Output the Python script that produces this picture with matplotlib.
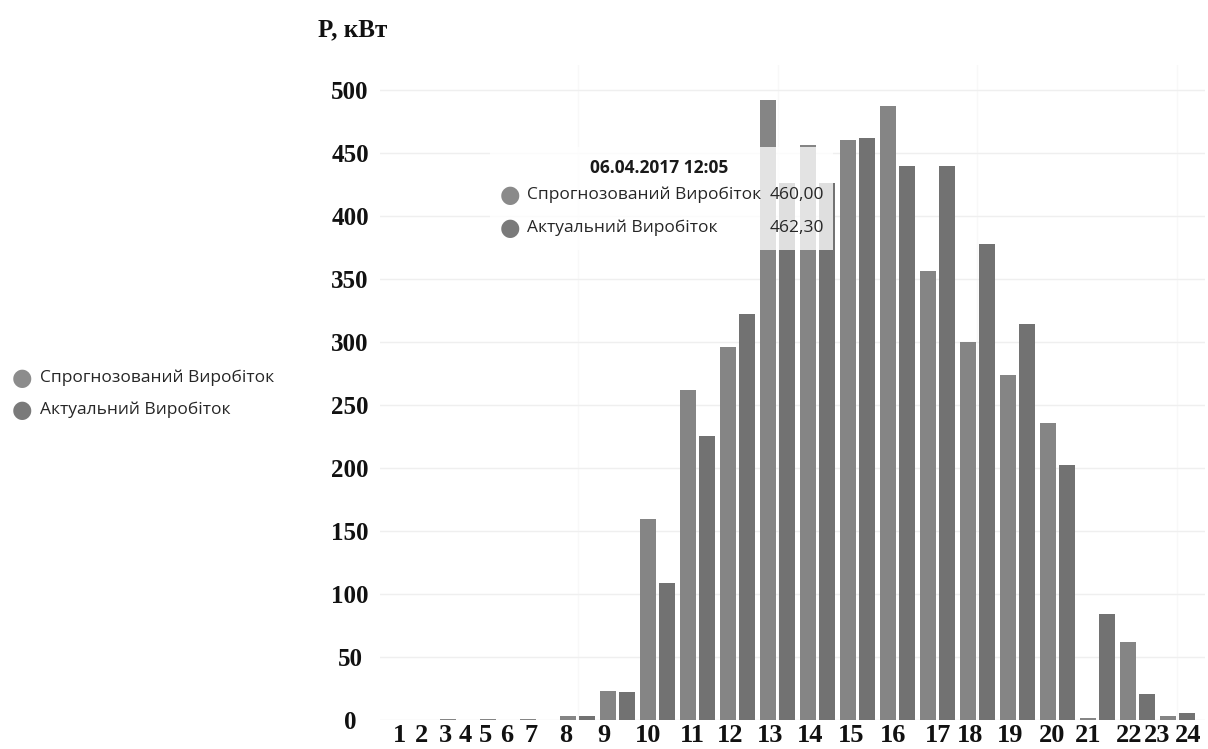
import numpy as np
import matplotlib
matplotlib.use("Agg")
import matplotlib.pyplot as plt
from matplotlib.patches import Rectangle

# one group per time slot, first bar = forecast, second = actual
forecast = [0, 1, 1, 1, 3, 23, 159.5, 262, 296, 492, 456, 460, 487, 356.5, 300, 274, 235.5, 1.5, 62, 3]
actual = [0, 0, 0, 0, 3, 22.5, 109, 225, 322, 426, 426, 462.3, 440, 440, 378, 314, 202, 84, 20.5, 5.5]
hour_labels = [str(h) for h in range(1, 25)]
hour_pos = [-0.44, 0.11, 0.69, 1.19, 1.69, 2.24, 2.84, 3.71, 4.66, 5.76, 6.86, 7.81,
            8.81, 9.81, 10.84, 11.89, 13.01, 13.81, 14.81, 15.86, 16.76, 17.79, 18.49, 19.26]
y_ticks = [0, 50, 100, 150, 200, 250, 300, 350, 400, 450, 500]
series_names = ["Спрогнозований Виробіток", "Актуальний Виробіток"]
tip_time = "06.04.2017 12:05"
tip_values = ["460,00", "462,30"]

W, H = 1208, 749
c_fc, c_ac = "#858585", "#727272"
serif = ["Liberation Serif", "DejaVu Serif"]
sans = ["Open Sans", "DejaVu Sans"]


def px(x, y):
    return x / W, 1 - y / H


fig = plt.figure(figsize=(W / 100, H / 100), dpi=100)
ax = fig.add_axes([380 / W, 29 / H, 825 / W, 655.2 / H])

g = np.arange(len(forecast))
bw = 0.39
ax.bar(g - 0.2375, forecast, bw, color=c_fc, zorder=2)
ax.bar(g + 0.2375, actual, bw, color=c_ac, zorder=2)

ax.set_xlim(-0.94, 19.69)
ax.set_ylim(0, 520)
ax.set_yticks(y_ticks)
ax.set_yticklabels([str(v) for v in y_ticks], family=serif, weight="bold", fontsize=18, ha="center")
ax.tick_params(axis="y", length=0, pad=21.6, colors="#111111")
ax.set_xticks(hour_pos)
ax.set_xticklabels(hour_labels, family=serif, weight="bold", fontsize=19)
ax.tick_params(axis="x", length=0, pad=3, colors="#111111")
ax.grid(axis="y", color="#efefef", lw=1, zorder=0)
for xv in [4, 9, 14, 19]:
    ax.axvline(xv, color="#f8f8f8", lw=1, zorder=0)
for s in ax.spines.values():
    s.set_visible(False)

# tooltip box (semi-transparent white over the bars)
ax.add_patch(Rectangle((1.81, 373), 10.38 - 1.81, 454.5 - 373, facecolor="white",
                       alpha=0.78, edgecolor="none", zorder=3))

fig.text(*px(318, 30), "P, кВт", family=serif, weight="bold", fontsize=18,
         ha="left", va="center", color="#111111")

# tooltip text
fig.text(*px(659, 168), tip_time, family=sans, weight="bold", fontsize=12.5,
         ha="center", va="center", color="#1a1a1a")
for i, (name, val, col) in enumerate(zip(series_names, tip_values, ["#8a8a8a", "#7a7a7a"])):
    y = 195 + 33 * i
    fig.text(*px(510, y), "\u25CF", family=["DejaVu Sans"], fontsize=17, color=col, ha="center", va="center")
    fig.text(*px(527, y), name, family=sans, fontsize=12.5, ha="left", va="center", color="#262626")
    fig.text(*px(824, y), val, family=sans, fontsize=12.5, ha="right", va="center", color="#262626")

# left legend
for i, (name, col) in enumerate(zip(series_names, ["#8c8c8c", "#7a7a7a"])):
    y = 378 + 32 * i
    fig.text(*px(22, y), "\u25CF", family=["DejaVu Sans"], fontsize=17, color=col, ha="center", va="center")
    fig.text(*px(40, y), name, family=sans, fontsize=12.5, ha="left", va="center", color="#262626")

fig.savefig("out.png", dpi=100)
